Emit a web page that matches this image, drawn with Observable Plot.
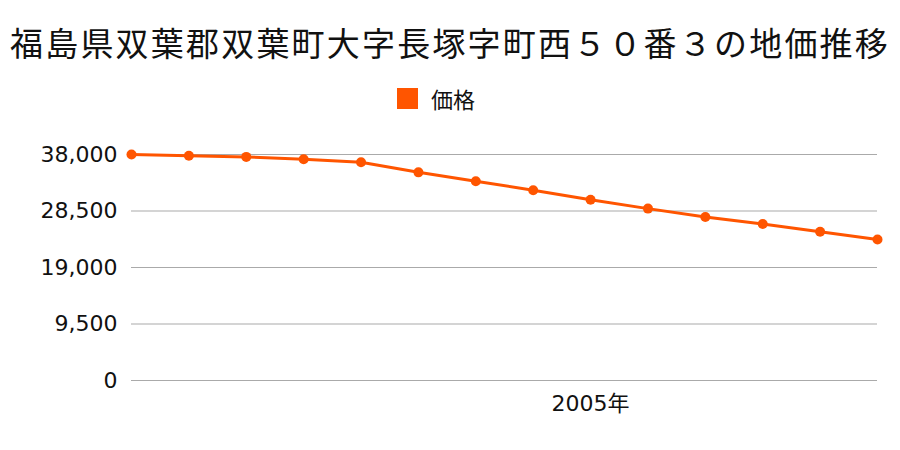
<!DOCTYPE html>
<html><head><meta charset="utf-8">
<script src="https://cdn.jsdelivr.net/npm/d3@7"></script>
<script src="https://cdn.jsdelivr.net/npm/@observablehq/plot@0.6"></script>
<style>
body{margin:0;background:#fff;font-family:"Noto Sans CJK JP","Noto Sans",sans-serif;}
#wrap{width:900px;height:450px;position:relative;overflow:hidden;}
#title{height:84px;line-height:84px;text-align:center;font-size:33px;letter-spacing:2.2px;color:#111;white-space:nowrap;}
#legend{height:28px;display:flex;align-items:center;justify-content:center;font-size:22px;color:#111;padding-right:28px;}
#legend span.sw{display:inline-block;width:21px;height:21px;background:#ff5500;margin-right:13px;}
</style></head>
<body><div id="wrap"><div id="title">福島県双葉郡双葉町大字長塚字町西５０番３の地価推移</div>
<div id="legend"><span class="sw"></span><span>価格</span></div>
<div id="chart"></div></div>
<script>
const years = [1997,1998,1999,2000,2001,2002,2003,2004,2005,2006,2007,2008,2009,2010];
const prices = [38000,37800,37600,37200,36700,35000,33500,32000,30400,28900,27500,26300,25000,23700];
const yTicks = [0,9500,19000,28500,38000];
const xTicks = [2005];
const xTickLabels = ["2005年"];
const seriesName = "価格";

const data = years.map((y,i)=>({year:y, price:prices[i], series:seriesName}));
const font = '"DejaVu Sans","Noto Sans CJK JP",sans-serif';

const chart = Plot.plot({
  width:900, height:338,
  marginTop:42, marginBottom:70, marginLeft:131, marginRight:23,
  style:{fontFamily:font, color:"#111", background:"#fff"},
  x:{domain:[1997,2010], label:null},
  y:{domain:[0,38000], label:null},
  marks:[
    Plot.ruleY(yTicks,{stroke:"#aaaaaa", strokeWidth:1.2, x1:1997, x2:2010}),
    Plot.axisY(yTicks,{tickSize:0, tickPadding:14, fontSize:22, fontFamily:font, tickFormat:d3.format(","), label:null}),
    Plot.axisX(xTicks,{tickSize:0, tickPadding:15, fontSize:22, fontFamily:font, tickFormat:(d)=>xTickLabels[xTicks.indexOf(d)], label:null}),
    Plot.line(data,{x:"year", y:"price", stroke:"#ff5500", strokeWidth:3}),
    Plot.dot(data,{x:"year", y:"price", fill:"#ff5500", r:5})
  ]
});
document.getElementById("chart").append(chart);
</script></body></html>
